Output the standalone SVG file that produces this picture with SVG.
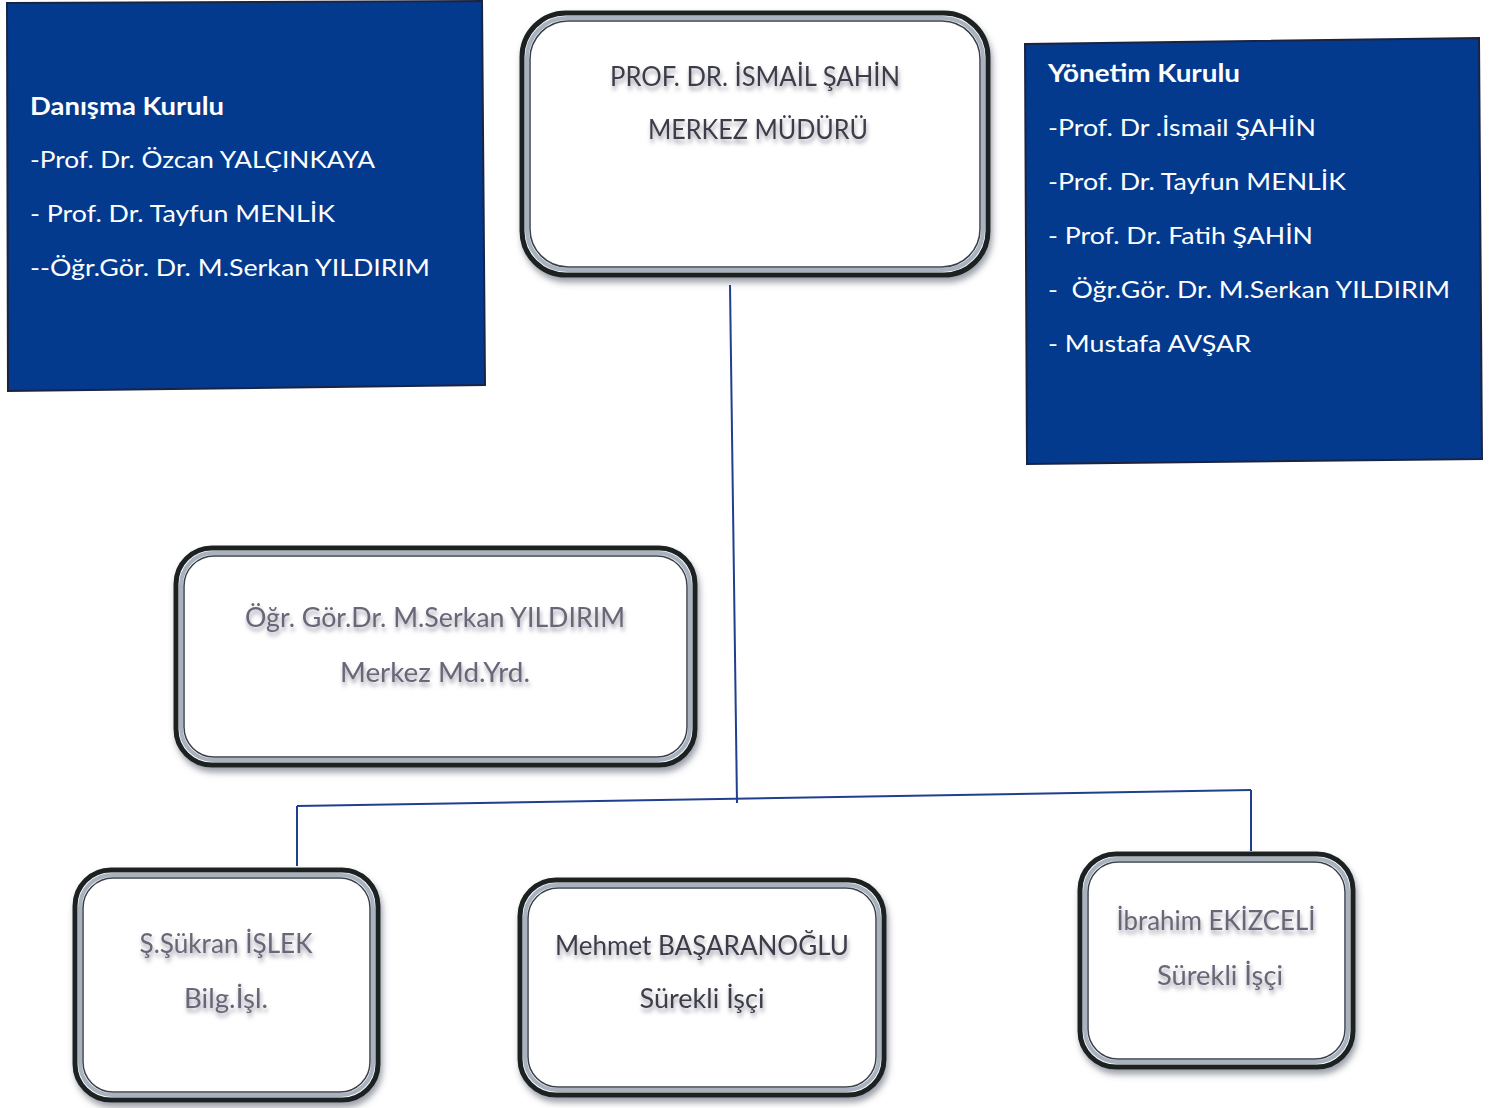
<svg xmlns="http://www.w3.org/2000/svg" width="1493" height="1108" viewBox="0 0 1493 1108">
<defs>
<filter id="tsh" x="-10%" y="-30%" width="120%" height="180%">
<feGaussianBlur in="SourceAlpha" stdDeviation="2"/>
<feOffset dx="1" dy="4" result="b"/>
<feFlood flood-color="#8a8a9a" flood-opacity="0.8"/>
<feComposite in2="b" operator="in" result="s"/>
<feMerge><feMergeNode in="s"/><feMergeNode in="SourceGraphic"/></feMerge>
</filter>
<filter id="bsh" x="-5%" y="-5%" width="110%" height="115%">
<feGaussianBlur in="SourceAlpha" stdDeviation="3"/>
<feOffset dx="2" dy="5" result="b"/>
<feFlood flood-color="#5a6070" flood-opacity="0.6"/>
<feComposite in2="b" operator="in" result="s"/>
<feMerge><feMergeNode in="s"/><feMergeNode in="SourceGraphic"/></feMerge>
</filter>
</defs>
<style>
.blue{fill:#033a8e;stroke:#1c2340;stroke-width:2}
.wt{fill:#ffffff;font-family:Lato,"Open Sans",sans-serif;font-size:24px}
.wb{font-weight:bold}
.outer{fill:#ffffff;stroke:#1f2224;stroke-width:5}
.mid{fill:none;stroke:#a9b3bf;stroke-width:4}
.inner{fill:none;stroke:#3a4048;stroke-width:1.5}
.nt{font-family:Lato,"Open Sans",sans-serif;font-size:26px;text-anchor:middle}
.n1{fill:#3d3d4a}
.n2{fill:#6a6678}
.conn{fill:none;stroke:#1f3f8f;stroke-width:2}
</style>
<rect width="1493" height="1108" fill="#ffffff"/>

<g id="connectors">
<path class="conn" d="M730,285 L737,803"/>
<path class="conn" d="M297,806 L1251,790"/>
<path class="conn" d="M297,806 L297,866"/>
<path class="conn" d="M1251,790 L1251,851"/>
</g>

<g id="danisma-kurulu">
<polygon class="blue" points="7,3 482,1 485,385 8,391"/>
<text class="wt wb" x="30" y="115" textLength="194" lengthAdjust="spacingAndGlyphs">Danışma Kurulu</text>
<text class="wt" x="30" y="168" textLength="345" lengthAdjust="spacingAndGlyphs">-Prof. Dr. Özcan YALÇINKAYA</text>
<text class="wt" x="30" y="222" textLength="305" lengthAdjust="spacingAndGlyphs">- Prof. Dr. Tayfun MENLİK</text>
<text class="wt" x="30" y="276" textLength="400" lengthAdjust="spacingAndGlyphs">--Öğr.Gör. Dr. M.Serkan YILDIRIM</text>
</g>

<g id="yonetim-kurulu">
<polygon class="blue" points="1025,44 1479,38 1482,459 1027,464"/>
<text class="wt wb" x="1048" y="82" textLength="192" lengthAdjust="spacingAndGlyphs">Yönetim Kurulu</text>
<text class="wt" x="1048" y="136" textLength="268" lengthAdjust="spacingAndGlyphs">-Prof. Dr .İsmail ŞAHİN</text>
<text class="wt" x="1048" y="190" textLength="298" lengthAdjust="spacingAndGlyphs">-Prof. Dr. Tayfun MENLİK</text>
<text class="wt" x="1048" y="244" textLength="265" lengthAdjust="spacingAndGlyphs">- Prof. Dr. Fatih ŞAHİN</text>
<text class="wt" x="1048" y="298" xml:space="preserve" textLength="402" lengthAdjust="spacingAndGlyphs">-  Öğr.Gör. Dr. M.Serkan YILDIRIM</text>
<text class="wt" x="1048" y="352" textLength="203" lengthAdjust="spacingAndGlyphs">- Mustafa AVŞAR</text>
</g>

<g id="merkez-muduru">
<rect class="outer" x="522" y="13" width="466" height="262" rx="44" filter="url(#bsh)"/>
<rect class="mid" x="527" y="18" width="456" height="252" rx="40"/>
<rect class="inner" x="530" y="21" width="450" height="246" rx="38"/>
<g filter="url(#tsh)">
<text class="nt n1" x="755" y="86" textLength="290" lengthAdjust="spacingAndGlyphs">PROF. DR. İSMAİL ŞAHİN</text>
<text class="nt n1" x="758" y="139" textLength="220" lengthAdjust="spacingAndGlyphs">MERKEZ MÜDÜRÜ</text>
</g>
</g>

<g id="merkez-md-yrd">
<rect class="outer" x="176" y="548" width="519" height="217" rx="36" filter="url(#bsh)"/>
<rect class="mid" x="181" y="553" width="509" height="207" rx="32"/>
<rect class="inner" x="184" y="556" width="503" height="201" rx="30"/>
<g filter="url(#tsh)">
<text class="nt n2" x="435" y="627" textLength="380" lengthAdjust="spacingAndGlyphs">Öğr. Gör.Dr. M.Serkan YILDIRIM</text>
<text class="nt n2" x="435" y="682" textLength="190" lengthAdjust="spacingAndGlyphs">Merkez Md.Yrd.</text>
</g>
</g>

<g id="sukran-islek">
<rect class="outer" x="75" y="870" width="303" height="230" rx="36" filter="url(#bsh)"/>
<rect class="mid" x="80" y="875" width="293" height="220" rx="32"/>
<rect class="inner" x="83" y="878" width="287" height="214" rx="30"/>
<g filter="url(#tsh)">
<text class="nt n2" x="226" y="953" textLength="173" lengthAdjust="spacingAndGlyphs">Ş.Şükran İŞLEK</text>
<text class="nt n2" x="226" y="1008" textLength="84" lengthAdjust="spacingAndGlyphs">Bilg.İşl.</text>
</g>
</g>

<g id="mehmet-basaranoglu">
<rect class="outer" x="520" y="880" width="364" height="215" rx="36" filter="url(#bsh)"/>
<rect class="mid" x="525" y="885" width="354" height="205" rx="32"/>
<rect class="inner" x="528" y="888" width="348" height="199" rx="30"/>
<g filter="url(#tsh)">
<text class="nt n1" x="702" y="955" textLength="294" lengthAdjust="spacingAndGlyphs">Mehmet BAŞARANOĞLU</text>
<text class="nt n1" x="702" y="1008" textLength="125" lengthAdjust="spacingAndGlyphs">Sürekli İşçi</text>
</g>
</g>

<g id="ibrahim-ekizceli">
<rect class="outer" x="1080" y="854" width="273" height="213" rx="36" filter="url(#bsh)"/>
<rect class="mid" x="1085" y="859" width="263" height="203" rx="32"/>
<rect class="inner" x="1088" y="862" width="257" height="197" rx="30"/>
<g filter="url(#tsh)">
<text class="nt n2" x="1216" y="930" textLength="199" lengthAdjust="spacingAndGlyphs">İbrahim EKİZCELİ</text>
<text class="nt n2" x="1220" y="985" textLength="126" lengthAdjust="spacingAndGlyphs">Sürekli İşçi</text>
</g>
</g>
</svg>
